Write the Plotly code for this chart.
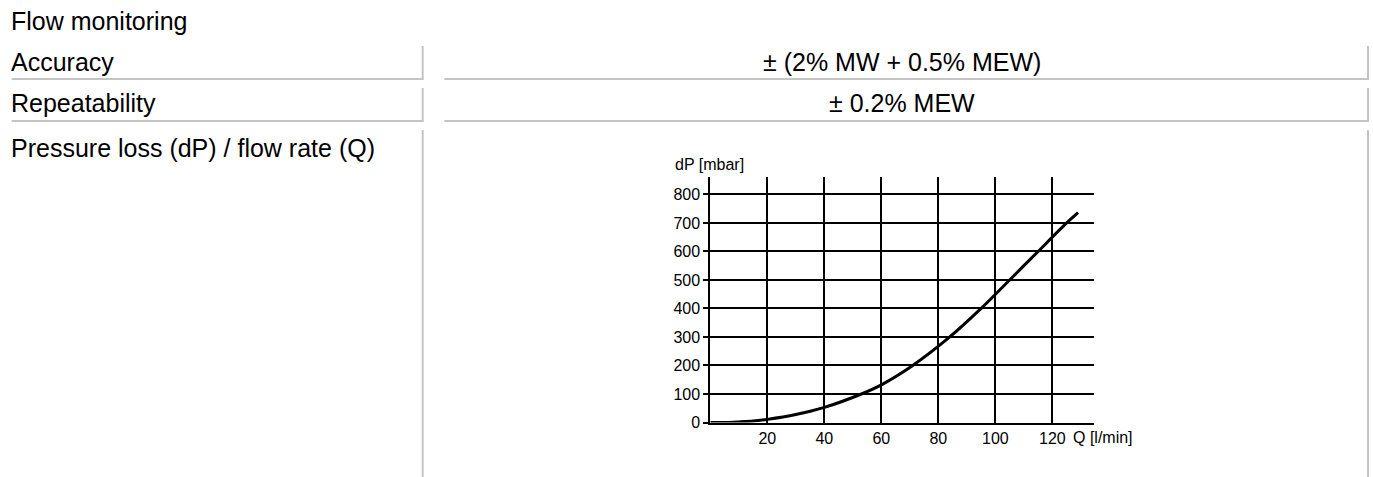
import plotly.graph_objects as go

W, H = 1373, 477
H_EFF = 468  # observed effective vertical scale of the rendered page

# ---- data ----
flow_q = [0, 6, 10, 15, 20, 30, 40, 53, 60, 71, 84, 95, 105, 115, 125, 129]
dp_mbar = [0, 0, 2, 5, 11, 28, 53, 100, 132, 200, 300, 400, 500, 600, 700, 736]
x_ticks = [20, 40, 60, 80, 100, 120]
y_ticks = [0, 100, 200, 300, 400, 500, 600, 700, 800]
row_labels = ["Accuracy", "Repeatability", "Pressure loss (dP) / flow rate (Q)"]
row_values = ["± (2% MW + 0.5% MEW)", "± 0.2% MEW"]
section_title = "Flow monitoring"

FONT = "Liberation Sans, Arial, sans-serif"
BIG = 25
SMALL = 16


def px(x):
    return x / W


def py(y):
    return 1 - y / H_EFF


fig = go.Figure()
fig.add_trace(go.Scatter(
    x=flow_q, y=dp_mbar, mode="lines",
    line=dict(color="black", width=3, shape="spline", smoothing=0.6),
    hoverinfo="skip", showlegend=False,
))

# plot area in pixels
x0_px, x1_px = 710.3, 1094.3
y0_px, y1_px = 422.5, 177.3
x_max = 134.7
y_max = 860

fig.update_layout(
    width=W, height=H, autosize=False,
    margin=dict(l=0, r=0, t=0, b=0, pad=0),
    paper_bgcolor="white", plot_bgcolor="white",
    font=dict(family=FONT, color="black"),
    xaxis=dict(
        domain=[px(x0_px), px(x1_px)], range=[0, x_max],
        tickvals=x_ticks, ticktext=[str(v) for v in x_ticks],
        showgrid=True, gridcolor="black", gridwidth=1.7,
        showline=True, linecolor="black", linewidth=2,
        zeroline=False, ticks="", tickfont=dict(size=SMALL, color="black", family=FONT),
        fixedrange=True,
    ),
    yaxis=dict(
        domain=[py(y0_px), py(y1_px)], range=[0, y_max],
        tickvals=y_ticks, ticktext=[str(v) for v in y_ticks],
        showgrid=True, gridcolor="black", gridwidth=1.7,
        showline=True, linecolor="black", linewidth=2,
        zeroline=False, ticks="outside", ticklen=5, tickwidth=1.7, tickcolor="black",
        tickfont=dict(size=SMALL, color="black", family=FONT),
        fixedrange=True,
    ),
)

annotations = []


def add_text(text, x, y, size=BIG, xanchor="left"):
    annotations.append(dict(
        text=text, x=px(x), y=py(y), xref="paper", yref="paper",
        xanchor=xanchor, yanchor="middle", showarrow=False,
        font=dict(size=size, color="black", family=FONT),
    ))


add_text(section_title, 9, 21)
row_centers = [61.7, 103.3, 148]
for lbl, yc in zip(row_labels, row_centers):
    add_text(lbl, 9, yc)
for val, yc in zip(row_values, row_centers[:2]):
    add_text(val, 902.5, yc, xanchor="center")

add_text("dP [mbar]", 673, 164, size=SMALL)
add_text("Q [l/min]", 1071, 437, size=SMALL)

fig.update_layout(annotations=annotations)

# table borders
GRAY = "#c4c4c4"
shapes = []


def line(xa, ya, xb, yb):
    shapes.append(dict(type="line", xref="paper", yref="paper",
                       x0=px(xa), y0=py(ya), x1=px(xb), y1=py(yb),
                       line=dict(color=GRAY, width=2)))


cells = [(46, 79), (88, 121), (130, 490)]
for i, (top, bot) in enumerate(cells):
    line(422.7, top, 422.7, bot)
    line(1368, top, 1368, bot)
    if i < 2:
        line(11.7, bot, 423.7, bot)
        line(444.3, bot, 1369, bot)

fig.update_layout(shapes=shapes)

fig.write_html(
    "out.html",
    config={"displayModeBar": False, "responsive": False},
    post_script="document.body.style.margin='0';document.body.style.padding='0';document.documentElement.style.overflow='hidden';",
)
